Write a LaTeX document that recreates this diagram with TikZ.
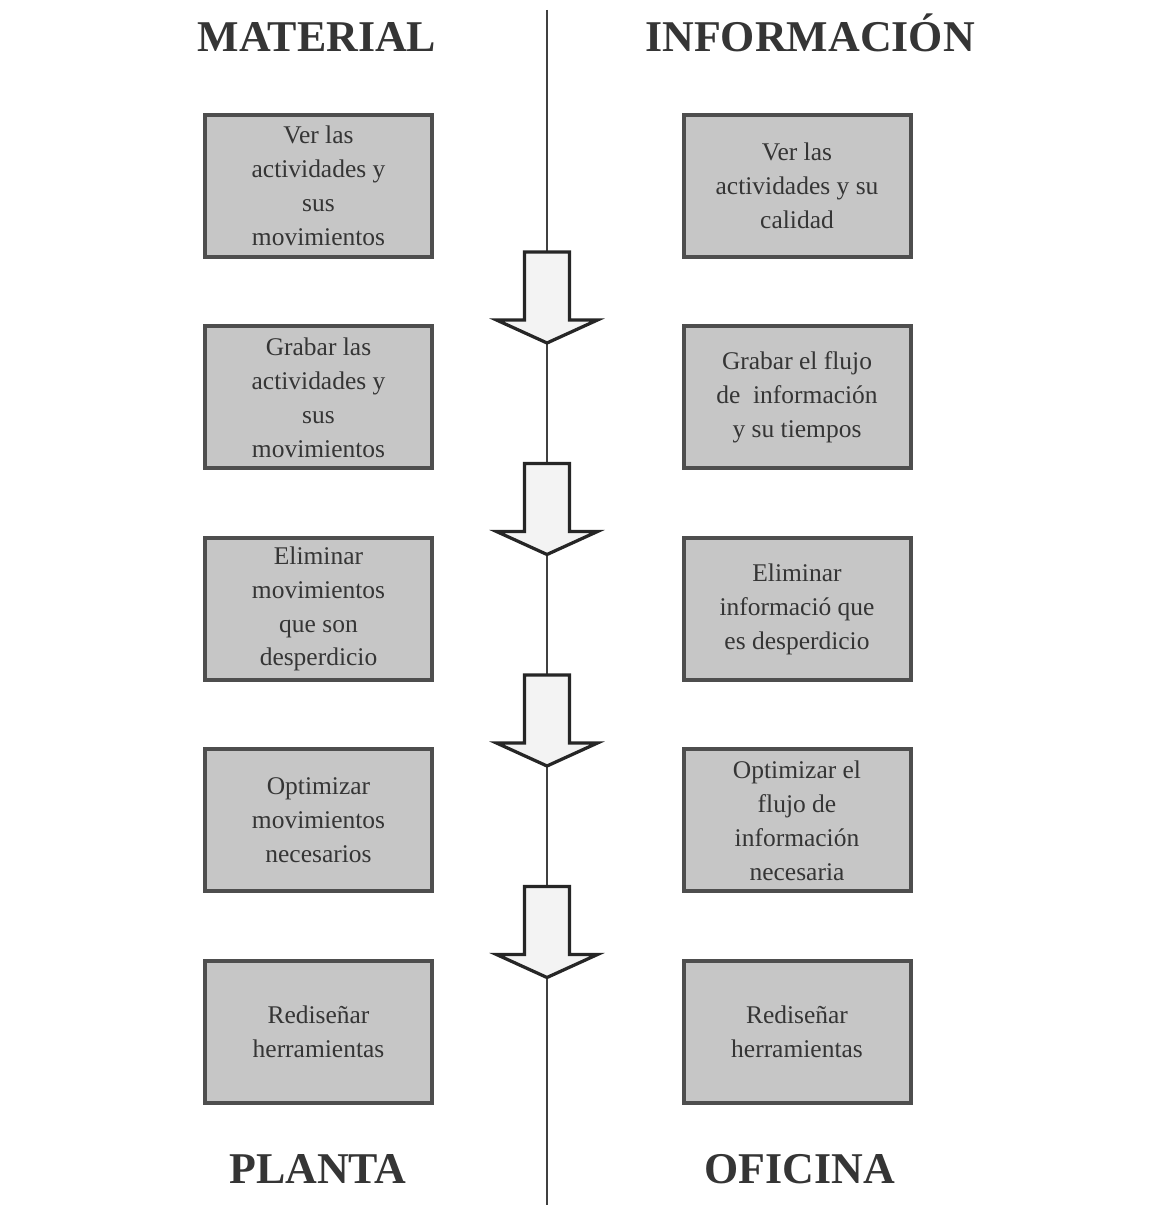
\documentclass[tikz,border=0pt]{standalone}
\usepackage{fontspec}
\setmainfont{Liberation Serif}
\usetikzlibrary{positioning}

\definecolor{caja}{HTML}{C6C6C6}
\definecolor{borde}{HTML}{4E4E4E}
\definecolor{texto}{HTML}{353535}
\definecolor{flechafondo}{HTML}{F3F3F3}

\begin{document}
\begin{tikzpicture}
        [paso/.style={rectangle,draw=borde,fill=caja,line width=0.08cm,minimum width=4.54cm,minimum height=2.84cm,
                      inner sep=0pt,align=center,text=texto,font=\fontsize{14.5}{19.3}\selectfont},
         titulo/.style={anchor=base,text=texto,font=\fontsize{25}{30}\selectfont\bfseries},
         flecha/.style={draw=black!85,fill=flechafondo,line width=0.065cm,line join=miter},
         eje/.style={draw=black!75,line width=0.03cm}]
        \useasboundingbox (0,0) rectangle (23.12,24.1);
        % eje central
        \draw[eje] (10.94,23.9) -- (10.94,0);
        % titulos
        \node[titulo] (material) at (6.34,23.06) {MATERIAL};
        \node[titulo] (informacion) at (16.2,23.06) {INFORMACIÓN};
        \node[titulo] (planta) at (6.36,0.42) {PLANTA};
        \node[titulo] (oficina) at (16.0,0.42) {OFICINA};
        % pasos de cada lado
        \foreach \i/\izq/\der in {0/{Ver las\\actividades y\\sus\\movimientos}/{Ver las\\actividades y su\\calidad},
                                  1/{Grabar las\\actividades y\\sus\\movimientos}/{Grabar el flujo\\de~~información\\y su tiempos},
                                  2/{Eliminar\\movimientos\\que son\\desperdicio}/{Eliminar\\informació que\\es desperdicio},
                                  3/{Optimizar\\movimientos\\necesarios}/{Optimizar el\\flujo de\\información\\necesaria},
                                  4/{Rediseñar\\herramientas}/{Rediseñar\\herramientas}}
          {
            \node[paso] (mat\i) at (6.37,20.38-4.23*\i) {\izq};
            \node[paso] (inf\i) at (15.94,20.38-4.23*\i) {\der};
          }
        % flechas entre pasos
        \foreach \k in {0,...,3}
          \draw[flecha,shift={(0,-4.23*\k)}] (10.49,19.06) -- (11.39,19.06) -- (11.39,17.70) -- (11.95,17.70)
                -- (10.94,17.24) -- (9.93,17.70) -- (10.49,17.70) -- cycle;
\end{tikzpicture}
\end{document}
